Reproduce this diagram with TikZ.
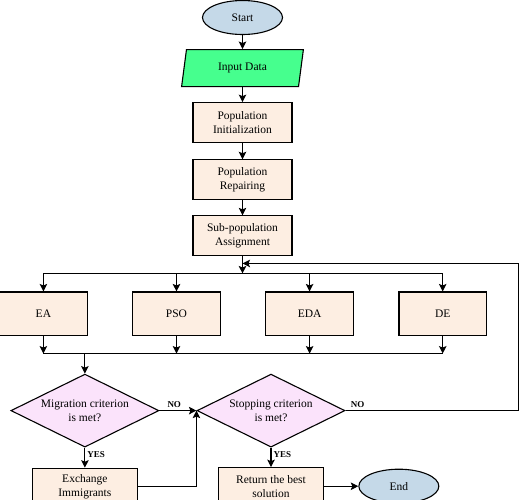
\documentclass[tikz,border=0pt]{standalone}
\usepackage{fontspec}
\setmainfont{Liberation Serif}
\usepackage{tikz}
\usetikzlibrary{shapes.geometric, arrows.meta, positioning, calc}
\definecolor{termFill}{HTML}{C5D9E8}
\definecolor{dataFill}{HTML}{46FF8E}
\definecolor{boxFill}{HTML}{FDEEE2}
\definecolor{decFill}{HTML}{FBE3FB}
\tikzstyle{arrow} = [line width=1.1pt,-{Stealth[length=7.5pt,width=7.5pt,inset=1.5pt]}]
\tikzstyle{line} = [line width=1.1pt]
\tikzstyle{txt} = [font=\fontsize{11.5pt}{14pt}\selectfont, align=center, text=black]
\tikzstyle{basic} = [rectangle, txt, draw=black, line width=1.1pt, fill=boxFill, inner sep=0pt]
\tikzstyle{term} = [ellipse, txt, draw=black, line width=1.1pt, fill=termFill, minimum width=80pt, minimum height=34pt, inner sep=0pt]
\tikzstyle{io} = [trapezium, trapezium left angle=78, trapezium right angle=102, trapezium stretches=true, txt, draw=black, line width=1.1pt, fill=dataFill, minimum width=122pt, minimum height=37pt, inner sep=0pt]
\tikzstyle{decision} = [diamond, aspect=2, txt, draw=black, line width=1.1pt, fill=decFill, minimum width=148pt, minimum height=73pt, inner sep=0pt]
\tikzstyle{lbl} = [font=\fontsize{9pt}{10pt}\selectfont\bfseries, inner sep=2pt]

\begin{document}
\begin{tikzpicture}[node distance=0mm]
\useasboundingbox (0,0) rectangle (520pt,-499pt);

\node (start) [term] at (242.5pt,-17.5pt) {Start};
\node (input) [io, anchor=north, yshift=-14pt] at(start.south) {Input Data};
\node (popinit) [basic, minimum width=99pt, minimum height=40pt, anchor=north, yshift=-15pt] at(input.south) {Population\\Initialization};
\node (poprep) [basic, minimum width=99pt, minimum height=40pt, anchor=north, yshift=-16pt] at(popinit.south) {Population\\Repairing};
\node (subpop) [basic, minimum width=99pt, minimum height=40pt, anchor=north, yshift=-15pt] at(poprep.south) {Sub-population\\Assignment};
\draw [arrow] (start.south) -- (input.north);
\draw [arrow] (input.south) -- (popinit.north);
\draw [arrow] (popinit.south) -- (poprep.north);
\draw [arrow] (poprep.south) -- (subpop.north);

% the four sub-populations
\node (pso) [basic, minimum width=87.5pt, minimum height=43.5pt, anchor=north, xshift=-66pt, yshift=-35pt] at(subpop.south) {PSO};
\node (ea) [basic, minimum width=87.5pt, minimum height=43.5pt, anchor=east, xshift=-44.5pt] at(pso.west) {EA};
\node (eda) [basic, minimum width=87.5pt, minimum height=43.5pt, anchor=west, xshift=44.5pt] at(pso.east) {EDA};
\node (de) [basic, minimum width=87.5pt, minimum height=43.5pt, anchor=west, xshift=44.5pt] at(eda.east) {DE};

\coordinate (split) at ($(subpop.south)+(0,-17pt)$);
\coordinate (back) at ($(subpop.south)+(0,-7pt)$);
\coordinate (merge) at ($(ea.south)+(0,-17.5pt)$);

\draw [arrow] (subpop.south) -- (split);
\draw [line] (ea.north |- split) -- (de.north |- split);
\draw [arrow] (ea.north |- split) -- (ea.north);
\draw [arrow] (pso.north |- split) -- (pso.north);
\draw [arrow] (eda.north |- split) -- (eda.north);
\draw [arrow] (de.north |- split) -- (de.north);

\draw [line] (ea.south |- merge) -- (de.south |- merge);
\draw [arrow] (ea.south) -- (ea.south |- merge);
\draw [arrow] (pso.south) -- (pso.south |- merge);
\draw [arrow] (eda.south) -- (eda.south |- merge);
\draw [arrow] (de.south) -- (de.south |- merge);

% decisions
\node (mig) [decision, anchor=north, yshift=-20pt] at($(merge)+(41.5pt,0)$) {Migration criterion\\is met?};
\node (stop) [decision, anchor=west, xshift=37pt] at(mig.east) {Stopping criterion\\is met?};
\draw [arrow] (mig.north |- merge) -- (mig.north);
\draw [arrow] (mig.east) -- node[lbl, above, pos=0.4] {NO} (stop.west);
\draw [arrow] (stop.east) -- node[lbl, above, pos=0.07] {NO} ++(173pt,0) |- (back);

\node (exch) [basic, minimum width=105.5pt, minimum height=37pt, anchor=north, yshift=-20pt] at(mig.south) {Exchange\\Immigrants};
\node (ret) [basic, minimum width=105.5pt, minimum height=37pt, anchor=north, yshift=-19.5pt] at(stop.south) {Return the best\\solution};
\node (end) [term, anchor=west, xshift=34pt] at(ret.east) {End};
\draw [arrow] (mig.south) -- node[lbl, right, pos=0.35] {YES} (exch.north);
\draw [arrow] (stop.south) -- node[lbl, right, pos=0.35] {YES} (ret.north);
\draw [arrow] (exch.east) -| (stop.west);
\draw [arrow] (ret.east) -- (end.west);

\end{tikzpicture}
\end{document}
